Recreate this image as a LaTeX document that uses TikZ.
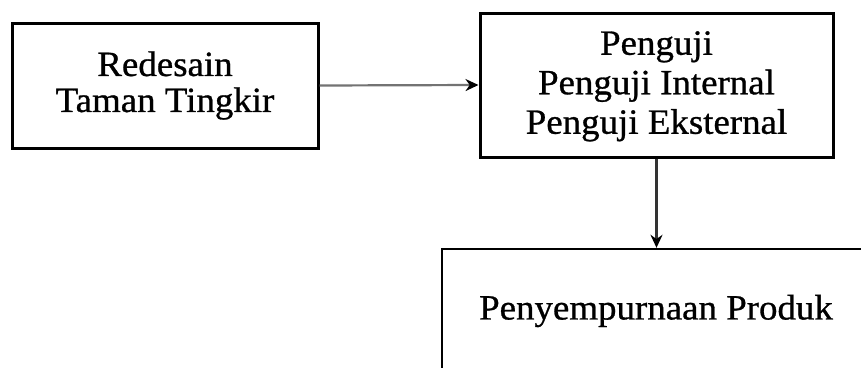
\documentclass[tikz,border=0pt]{standalone}
\usepackage{fontspec}
\setmainfont[FakeStretch=1.04,FakeBold=0.8]{Liberation Serif}
\usetikzlibrary{arrows.meta}
\begin{document}
\begin{tikzpicture}[x=1pt,y=-1pt,
  box/.style={draw=black, line width=3pt, fill=white, align=center,
    inner sep=0pt, font=\fontsize{35.5}{39.5}\selectfont},
  link/.style={draw=black!55, line width=2.2pt,
    -{Stealth[length=13pt,width=12pt,color=black]}}]
\useasboundingbox (0,0) rectangle (861,367);
\clip (0,0) rectangle (861,367);
\fill[white] (0,0) rectangle (861,367);
% process boxes
\node[box, minimum width=306, minimum height=125,
  font=\fontsize{35.5}{36}\selectfont] (redesain) at (165,85.5)
  {Redesain\\Taman Tingkir};
\node[box, minimum width=353, minimum height=144, text depth=5pt] (penguji) at (656.5,85)
  {Penguji\\Penguji Internal\\Penguji Eksternal};
\node[box, line width=2.4pt, minimum width=428, minimum height=124] (produk) at (656,311)
  {Penyempurnaan Produk};
% connectors
\draw[link] (redesain.east) -- (penguji.west);
\draw[link, draw=black!80, line width=2.6pt] (penguji.south) -- (penguji.south |- produk.north);
\end{tikzpicture}
\end{document}
